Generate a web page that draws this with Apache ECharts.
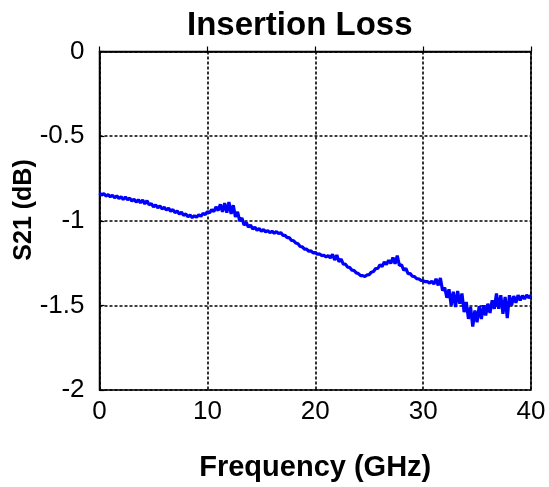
<!DOCTYPE html>
<html>
<head>
<meta charset="utf-8">
<script src="https://cdn.jsdelivr.net/npm/echarts@6/dist/echarts.min.js"></script>
<style>
html,body{margin:0;padding:0;background:#fff;}
#c{width:549px;height:487px;}
</style>
</head>
<body>
<div id="c"></div>
<script>
var titleText = 'Insertion Loss';
var xName = 'Frequency (GHz)';
var yName = 'S21 (dB)';
var xTicks = [0, 10, 20, 30, 40];
var yTicks = [0, -0.5, -1, -1.5, -2];

var freq = [
0.0,0.2,0.4,0.6,0.8,1.0,1.2,1.4,1.6,1.8,
2.0,2.2,2.4,2.6,2.8,3.0,3.2,3.4,3.6,3.8,
4.0,4.2,4.4,4.6,4.8,5.0,5.2,5.4,5.6,5.8,
6.0,6.2,6.4,6.6,6.8,7.0,7.2,7.4,7.6,7.8,
8.0,8.2,8.4,8.6,8.8,9.0,9.2,9.4,9.6,9.8,
10.0,10.2,10.4,10.6,10.8,11.0,11.2,11.4,11.6,11.8,
12.0,12.2,12.4,12.6,12.8,13.0,13.2,13.4,13.6,13.8,
14.0,14.2,14.4,14.6,14.8,15.0,15.2,15.4,15.6,15.8,
16.0,16.2,16.4,16.6,16.8,17.0,17.2,17.4,17.6,17.8,
18.0,18.2,18.4,18.6,18.8,19.0,19.2,19.4,19.6,19.8,
20.0,20.2,20.4,20.6,20.8,21.0,21.2,21.4,21.6,21.8,
22.0,22.2,22.4,22.6,22.8,23.0,23.2,23.4,23.6,23.8,
24.0,24.2,24.4,24.6,24.8,25.0,25.2,25.4,25.6,25.8,
26.0,26.2,26.4,26.6,26.8,27.0,27.2,27.4,27.6,27.8,
28.0,28.2,28.4,28.6,28.8,29.0,29.2,29.4,29.6,29.8,
30.0,30.2,30.4,30.6,30.8,31.0,31.2,31.4,31.6,31.8,
32.0,32.2,32.4,32.6,32.8,33.0,33.2,33.4,33.6,33.8,
34.0,34.2,34.4,34.6,34.8,35.0,35.2,35.4,35.6,35.8,
36.0,36.2,36.4,36.6,36.8,37.0,37.2,37.4,37.6,37.8,
38.0,38.2,38.4,38.6,38.8,39.0,39.2,39.4,39.6,39.8,
40.0
];

var s21 = [
-0.836,-0.848,-0.840,-0.854,-0.846,-0.858,-0.850,-0.864,-0.853,-0.868,
-0.858,-0.874,-0.860,-0.876,-0.866,-0.884,-0.872,-0.890,-0.876,-0.894,
-0.878,-0.900,-0.882,-0.906,-0.898,-0.918,-0.906,-0.924,-0.912,-0.930,
-0.920,-0.936,-0.926,-0.944,-0.934,-0.952,-0.942,-0.960,-0.950,-0.968,
-0.960,-0.976,-0.966,-0.982,-0.970,-0.980,-0.964,-0.974,-0.956,-0.964,
-0.946,-0.954,-0.934,-0.946,-0.918,-0.940,-0.903,-0.947,-0.896,-0.952,
-0.890,-0.960,-0.908,-0.977,-0.948,-1.002,-0.983,-1.026,-1.010,-1.038,
-1.026,-1.048,-1.038,-1.056,-1.046,-1.062,-1.052,-1.066,-1.058,-1.070,
-1.062,-1.074,-1.064,-1.076,-1.070,-1.086,-1.086,-1.100,-1.100,-1.116,
-1.118,-1.132,-1.136,-1.152,-1.154,-1.168,-1.168,-1.180,-1.178,-1.190,
-1.188,-1.198,-1.196,-1.206,-1.204,-1.214,-1.206,-1.220,-1.198,-1.232,
-1.203,-1.242,-1.226,-1.257,-1.256,-1.274,-1.276,-1.292,-1.294,-1.308,
-1.312,-1.324,-1.324,-1.330,-1.320,-1.318,-1.304,-1.300,-1.282,-1.282,
-1.260,-1.270,-1.244,-1.258,-1.234,-1.252,-1.218,-1.254,-1.206,-1.264,
-1.260,-1.292,-1.282,-1.312,-1.312,-1.328,-1.330,-1.342,-1.344,-1.352,
-1.354,-1.360,-1.360,-1.368,-1.358,-1.374,-1.343,-1.382,-1.338,-1.412,
-1.395,-1.455,-1.405,-1.500,-1.420,-1.510,-1.415,-1.490,-1.430,-1.540,
-1.480,-1.580,-1.510,-1.625,-1.530,-1.600,-1.505,-1.580,-1.500,-1.560,
-1.490,-1.545,-1.470,-1.520,-1.430,-1.520,-1.440,-1.550,-1.450,-1.575,
-1.440,-1.500,-1.445,-1.485,-1.440,-1.470,-1.442,-1.462,-1.438,-1.456,
-1.440
];

var chart = echarts.init(document.getElementById('c'), null, {renderer: 'canvas'});
var FONT = 'Liberation Sans';
var data = freq.map(function (f, i) { return [f, s21[i]]; });

var option = {
  backgroundColor: '#fff',
  animation: false,
  title: {
    text: titleText,
    left: 182, top: 4,
    textStyle: {fontFamily: FONT, fontSize: 33, fontWeight: 'bold', color: '#000'}
  },
  grid: {
    left: 99.5, right: 18, top: 51.5, bottom: 94,
    show: true, borderColor: '#000', borderWidth: 1.5, backgroundColor: 'transparent'
  },
  xAxis: {
    type: 'value', min: xTicks[0], max: xTicks[xTicks.length - 1], interval: 10,
    name: xName, nameLocation: 'middle', nameGap: 63,
    nameTextStyle: {fontFamily: FONT, fontSize: 29, fontWeight: 'bold', color: '#000'},
    axisLine: {show: true, lineStyle: {color: '#000', width: 1.5}},
    axisTick: {show: true, inside: true, length: 5, lineStyle: {color: '#000', width: 1.2}},
    axisLabel: {fontFamily: FONT, fontSize: 26, color: '#000', margin: 9},
    splitLine: {show: true, lineStyle: {color: '#000', width: 1.6, type: [3, 2]}}
  },
  yAxis: {
    type: 'value', min: yTicks[yTicks.length - 1], max: yTicks[0], interval: 0.5,
    axisLine: {show: true, lineStyle: {color: '#000', width: 1.5}},
    axisTick: {show: true, inside: true, length: 5, lineStyle: {color: '#000', width: 1.2}},
    axisLabel: {fontFamily: FONT, fontSize: 26, color: '#000', margin: 15,
      formatter: function (v) { return String(v); }},
    splitLine: {show: true, lineStyle: {color: '#000', width: 1.6, type: [3, 2]}}
  },
  graphic: [{
    type: 'text',
    x: 24, y: 210,
    rotation: Math.PI / 2,
    style: {
      text: yName, fontFamily: FONT, fontSize: 25, fontWeight: 'bold', fill: '#000',
      textAlign: 'center', textVerticalAlign: 'middle'
    }
  }],
  series: [{
    type: 'line',
    data: data,
    showSymbol: false,
    symbol: 'none',
    lineStyle: {color: '#0000ff', width: 3.2},
    z: 3
  }]
};
chart.setOption(option);
</script>
</body>
</html>
